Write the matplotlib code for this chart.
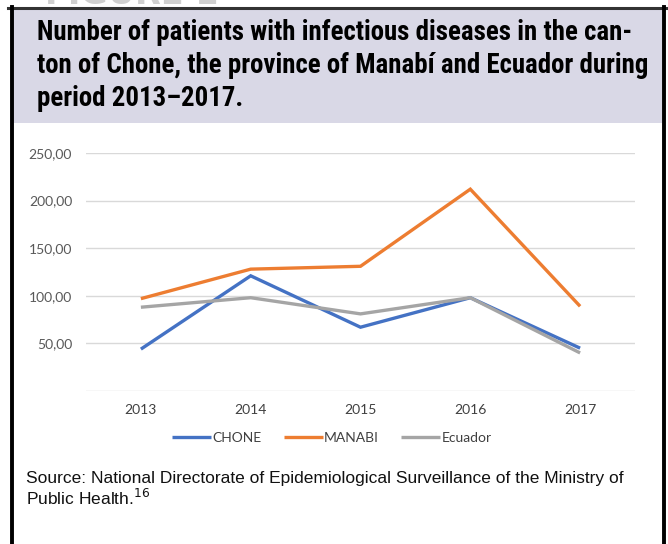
import os
import matplotlib
matplotlib.use("Agg")
import matplotlib.pyplot as plt
from matplotlib import font_manager as fm
from matplotlib.patches import Rectangle
from matplotlib.lines import Line2D

# data
years = ["2013", "2014", "2015", "2016", "2017"]
chone = [44, 121, 67, 98, 45]
manabi = [97, 128, 131, 212, 89]
ecuador = [88, 98, 81, 98, 40]
series_names = ["CHONE", "MANABI", "Ecuador"]
series_colors = ["#4472C4", "#ED7D31", "#A5A5A5"]
y_ticks = [0, 50, 100, 150, 200, 250]
y_tick_labels = ["", "50,00", "100,00", "150,00", "200,00", "250,00"]

title_lines = [
    "Number of patients with infectious diseases in the can-",
    "ton of Chone, the province of Manabí and Ecuador during",
    "period 2013–2017.",
]
source_lines = [
    "Source: National Directorate of Epidemiological Surveillance of the Ministry of",
    r"Public Health.$^{16}$",
]


def find_font(candidates):
    files = {os.path.basename(f.fname).lower(): f.fname for f in fm.fontManager.ttflist}
    for c in candidates:
        for name, path in files.items():
            if name.startswith(c):
                return path
    return None


narrow = find_font(["robotocondensed-bold", "liberationsansnarrow-bold",
                    "dejavusanscondensed-bold", "opensans_condensed-bold",
                    "opensans-condensedbold"])
if narrow:
    title_font = fm.FontProperties(fname=narrow, size=19.4)
else:
    title_font = fm.FontProperties(family="DejaVu Sans", weight="bold", size=14)

W, H = 668, 544
fig = plt.figure(figsize=(W / 100, H / 100), dpi=100)


def fx(px):
    return px / W


def fy(py):
    return 1 - py / H


# header box and frame
fig.patches.append(Rectangle((fx(12), fy(123)), fx(650), 114 / H, transform=fig.transFigure,
                             facecolor="#d9d8e6", edgecolor="none", zorder=0))
fig.add_artist(Line2D([fx(8), fx(666)], [fy(7.5), fy(7.5)], color="#333333", lw=2.2))
fig.add_artist(Line2D([fx(11.5), fx(11.5)], [fy(6.5), 0], color="black", lw=2.8))
fig.add_artist(Line2D([fx(664), fx(664)], [fy(6.5), 0], color="black", lw=2.8))

# cut-off figure label above the box (only its lower edge shows)
fig.text(fx(45), fy(4), "FIGURE 1", color="#d0d0d0", fontsize=24, weight="bold",
         va="baseline", ha="left")

for i, line in enumerate(title_lines):
    fig.text(fx(37), fy(33 + 32.5 * i), line, fontproperties=title_font,
             va="center", ha="left", color="black")

# chart
ax = fig.add_axes([fx(86), fy(391), fx(549), 238 / H])
x = range(len(years))
for vals, name, col in zip([chone, manabi, ecuador], series_names, series_colors):
    ax.plot(x, vals, color=col, lw=2.4, label=name, solid_capstyle="butt",
            solid_joinstyle="miter")

ax.set_xlim(-0.5, len(years) - 0.5)
ax.set_ylim(0, 250)
ax.set_yticks(y_ticks)
ax.set_yticklabels(y_tick_labels)
ax.set_xticks(list(x))
ax.set_xticklabels(years)
ax.grid(axis="y", color="#d9d9d9", lw=1)
ax.set_axisbelow(True)
for s in ax.spines.values():
    s.set_visible(False)
ax.tick_params(length=0)
ax.tick_params(axis="y", pad=10, labelsize=10, labelcolor="#595959")
ax.tick_params(axis="x", pad=9, labelsize=10, labelcolor="#404040")
for lab in ax.get_xticklabels() + ax.get_yticklabels():
    lab.set_family("Lato")

leg = ax.legend(loc="center", bbox_to_anchor=(fx(332), fy(438)), bbox_transform=fig.transFigure,
                ncol=3, frameon=False, handlelength=2.8, handletextpad=0.1, columnspacing=1.6,
                prop={"family": "Lato", "size": 10})
for t in leg.get_texts():
    t.set_color("#404040")

for i, line in enumerate(source_lines):
    fig.text(fx(26), fy(478 + 20 * i), line, family="Liberation Sans", fontsize=12.5,
             va="center", ha="left", color="#111111")

fig.savefig("out.png", dpi=100)
